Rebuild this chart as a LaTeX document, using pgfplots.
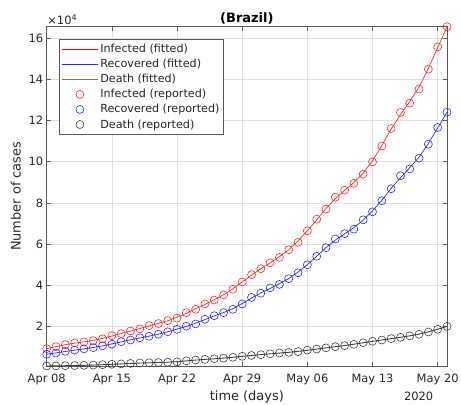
\documentclass[border=0pt]{standalone}
\usepackage{pgfplots}
\pgfplotsset{compat=1.18}
\usepackage{pgfplotstable}
\usepackage{fontspec}
\setmainfont{DejaVu Sans}

\pgfplotsset{
  legend image code/.code={\draw[mark repeat=2,mark phase=2,#1] plot coordinates {(0bp,0bp) (18.35bp,0bp) (36.7bp,0bp)};},
}

\pgfplotstableread{
day R Rf B Bf D Df
0 9300 9300 6600 6600 900 900
1 10300 10270 7200 7270 950 970
2 11300 11230 8000 7930 1060 1040
3 12100 12000 8600 8600 1120 1130
4 12600 12630 9200 9200 1220 1220
5 13200 13300 9800 9900 1330 1360
6 14100 14300 10700 10670 1530 1530
7 15600 15430 11500 11630 1740 1730
8 16600 16700 12700 12570 1920 1930
9 17900 17800 13500 13600 2140 2140
10 18900 19100 14600 14470 2350 2320
11 20500 20300 15300 15400 2460 2470
12 21500 21630 16300 16370 2590 2600
13 22900 22830 17500 17500 2740 2750
14 24100 24600 18700 18800 2910 3020
15 26800 26430 20200 20070 3400 3370
16 28400 28730 21300 21700 3800 3770
17 31000 30770 23600 23400 4100 4100
18 32900 33100 25300 25230 4400 4400
19 35400 35470 26800 26830 4700 4730
20 38100 38400 28400 28730 5100 5130
21 41700 41670 31000 31200 5600 5570
22 45200 45000 34200 33800 6000 6000
23 48100 48100 36200 36400 6400 6400
24 51000 50900 38800 38500 6800 6800
25 53600 53970 40500 40870 7200 7170
26 57300 57270 43300 43300 7500 7530
27 60900 61570 46100 46470 7900 8000
28 66500 66500 50000 50070 8600 8530
29 72100 71870 54100 54130 9100 9130
30 77000 77300 58300 58300 9700 9700
31 82800 82000 62500 61970 10300 10270
32 86200 86170 65100 64970 10800 10830
33 89500 89900 67300 68070 11400 11470
34 94000 94470 71800 71600 12200 12170
35 99900 100500 75700 76200 12900 12870
36 107600 107870 81100 81230 13500 13530
37 116100 115870 86900 87070 14200 14170
38 123900 122800 93200 92200 14800 14830
39 128400 129200 96500 97130 15500 15530
40 135300 136200 101700 102230 16300 16400
41 144900 145300 108500 108930 17400 17470
42 155700 155370 116600 116370 18700 18730
43 165500 165500 124000 124000 20100 20100
}\datatable

\definecolor{fitred}{RGB}{255,40,40}
\definecolor{fitblue}{RGB}{40,40,255}

\begin{document}
\begin{tikzpicture}
\begin{axis}[name=ax,
  scale only axis, width=400.3bp, height=339.3bp,
  xmin=0, xmax=43, ymin=900, ymax=165500,
  clip=false,
  xtick={0,7,14,21,28,35,42},
  xticklabels={Apr 08,Apr 15,Apr 22,Apr 29,May 06,May 13,May 20},
  ytick={20000,40000,60000,80000,100000,120000,140000,160000},
  scaled y ticks=base 10:-4,
  ytick scale label code/.code={×10\textsuperscript{4}},
  every y tick scale label/.style={at={(rel axis cs:0,1)}, anchor=south west, inner sep=0.5bp, yshift=1bp, font=\fontsize{11.5}{13}\selectfont, text=black!85},
  /pgf/number format/assume math mode=true,
  tick align=inside, major tick length=4bp,
  tick style={black!65, line width=0.5bp},
  axis line style={black!65, line width=0.5bp},
  grid=major, major grid style={black!12, line width=0.5bp},
  ticklabel style={font=\fontsize{11.5}{13}\selectfont, text=black!85},
  xticklabel style={yshift=-4.5bp},
  title={\bfseries (Brazil)},
  title style={font=\fontsize{13}{15}\selectfont, yshift=-7bp},
  xlabel={time (days)}, ylabel={Number of cases},
  every axis x label/.style={at={(axis description cs:0.5,-0.101)}, anchor=base, font=\fontsize{13}{15}\selectfont, text=black!85},
  every axis y label/.style={at={(axis description cs:-0.065,0.5)}, rotate=90, anchor=base, font=\fontsize{13}{15}\selectfont, text=black!85},
  legend cell align=left,
  legend style={at={(axis description cs:0.03,0.964)}, anchor=north west, draw=black!65, line width=0.5bp,
    font=\fontsize{11.2}{12.4}\selectfont, text=black!85, row sep=2.1bp, inner xsep=2bp, inner ysep=3.5bp,
    nodes={inner sep=1.5bp}},
]
\addlegendimage{color=red, line width=0.9bp, mark=none}
\addlegendentry{Infected (fitted)}
\addlegendimage{color=fitblue, line width=0.9bp, mark=none}
\addlegendentry{Recovered (fitted)}
\addlegendimage{color=black!55, line width=1.2bp, mark=none}
\addlegendentry{Death (fitted)}
\addlegendimage{/tikz/only marks, mark=o, mark size=4bp, red!90, mark options={line width=0.55bp}}
\addlegendentry{Infected (reported)}
\addlegendimage{/tikz/only marks, mark=o, mark size=4bp, blue!90, mark options={line width=0.55bp}}
\addlegendentry{Recovered (reported)}
\addlegendimage{/tikz/only marks, mark=o, mark size=4bp, black!80, mark options={line width=0.55bp}}
\addlegendentry{Death (reported)}
\addplot[fitred, line width=0.7bp, forget plot] table[x=day,y=Rf]{\datatable};
\addplot[fitblue, line width=0.7bp, forget plot] table[x=day,y=Bf]{\datatable};
\addplot[black!75, line width=0.9bp, forget plot] table[x=day,y=Df]{\datatable};
\addplot[/tikz/only marks, mark=o, mark size=4bp, red!90, mark options={line width=0.55bp}, forget plot] table[x=day,y=R]{\datatable};
\addplot[/tikz/only marks, mark=o, mark size=4bp, blue!90, mark options={line width=0.55bp}, forget plot] table[x=day,y=B]{\datatable};
\addplot[/tikz/only marks, mark=o, mark size=4bp, black!80, mark options={line width=0.55bp}, forget plot] table[x=day,y=D]{\datatable};
\end{axis}
\node[anchor=base east, font=\fontsize{11.5}{13}\selectfont, text=black!85] at ([shift={(-10.3bp,-34.3bp)}]ax.south east) {2020};
\pgfresetboundingbox
\path[use as bounding box] ([shift={(-46.7bp,-39bp)}]ax.south west) rectangle ([shift={(14bp,26.7bp)}]ax.north east);
\end{tikzpicture}
\end{document}
